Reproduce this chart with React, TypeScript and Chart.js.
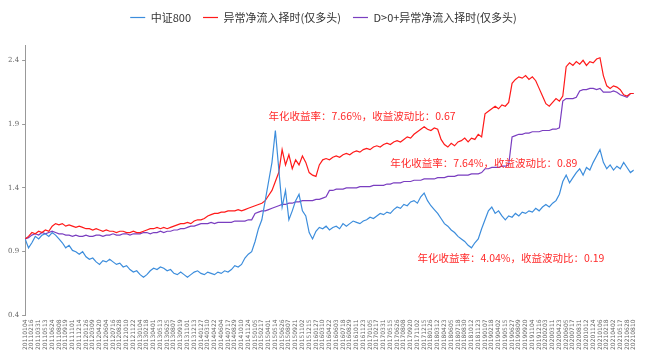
import { useEffect, useRef } from "react";
import { Chart, registerables } from "chart.js";
Chart.register(...registerables);

const xLabels = [
  "20110104","20110216","20110331","20110513","20110624","20110808","20110919","20111101","20111214","20120126",
  "20120309","20120420","20120604","20120716","20120828","20121010","20121122","20130104","20130218","20130401",
  "20130513","20130625","20130807","20130919","20131101","20131213","20140127","20140310","20140422","20140604",
  "20140717","20140829","20141010","20141124","20150105","20150217","20150401","20150514","20150626","20150807",
  "20150921","20151102","20151215","20160127","20160310","20160422","20160603","20160718","20160829","20161011",
  "20161123","20170105","20170217","20170331","20170515","20170626","20170808","20170920","20171102","20171215",
  "20180126","20180312","20180423","20180605","20180718","20180830","20181012","20181123","20190107","20190218",
  "20190402","20190515","20190627","20190809","20190920","20191104","20191216","20200203","20200311","20200423",
  "20200605","20200717","20200831","20201012","20201124","20210106","20210218","20210402","20210517","20210628",
  "20210810"
];

const csi800 = [
  1.0,0.93,0.97,1.02,1.0,1.03,1.04,1.02,1.05,1.03,
  1.0,0.97,0.93,0.95,0.91,0.9,0.88,0.9,0.86,0.84,
  0.85,0.82,0.8,0.83,0.82,0.84,0.82,0.8,0.81,0.78,
  0.79,0.76,0.74,0.75,0.72,0.7,0.72,0.75,0.77,0.76,
  0.78,0.77,0.75,0.76,0.73,0.72,0.74,0.72,0.7,0.72,
  0.74,0.75,0.73,0.72,0.74,0.73,0.72,0.74,0.73,0.75,
  0.74,0.76,0.79,0.78,0.8,0.85,0.88,0.9,0.98,1.08,
  1.15,1.3,1.45,1.6,1.85,1.55,1.25,1.38,1.15,1.22,
  1.3,1.35,1.22,1.18,1.05,1.0,1.06,1.09,1.08,1.1,
  1.07,1.09,1.1,1.08,1.12,1.1,1.12,1.14,1.13,1.12,
  1.14,1.15,1.17,1.16,1.18,1.2,1.19,1.21,1.2,1.23,
  1.25,1.24,1.27,1.26,1.29,1.3,1.28,1.33,1.36,1.3,
  1.26,1.23,1.2,1.16,1.12,1.1,1.07,1.05,1.02,1.0,
  0.98,0.95,0.93,0.97,1.0,1.08,1.15,1.22,1.25,1.2,
  1.22,1.18,1.15,1.18,1.17,1.2,1.18,1.21,1.2,1.22,
  1.21,1.24,1.22,1.25,1.27,1.25,1.28,1.3,1.35,1.45,
  1.5,1.44,1.48,1.52,1.55,1.5,1.56,1.54,1.6,1.65,
  1.7,1.6,1.55,1.58,1.54,1.57,1.55,1.6,1.56,1.52,
  1.54
];

const flowTiming = [
  1.0,1.02,1.05,1.04,1.06,1.05,1.07,1.06,1.1,1.12,
  1.11,1.12,1.1,1.11,1.1,1.09,1.1,1.09,1.08,1.08,
  1.07,1.08,1.07,1.06,1.07,1.06,1.06,1.05,1.06,1.06,
  1.05,1.05,1.06,1.05,1.05,1.06,1.07,1.08,1.08,1.09,
  1.08,1.09,1.08,1.09,1.1,1.11,1.12,1.12,1.13,1.12,
  1.14,1.15,1.15,1.16,1.18,1.19,1.2,1.2,1.21,1.21,
  1.22,1.22,1.22,1.23,1.22,1.23,1.24,1.25,1.26,1.27,
  1.28,1.3,1.34,1.38,1.45,1.52,1.7,1.58,1.66,1.55,
  1.62,1.58,1.65,1.6,1.52,1.5,1.49,1.58,1.62,1.63,
  1.62,1.64,1.65,1.64,1.66,1.67,1.66,1.68,1.69,1.68,
  1.7,1.71,1.7,1.72,1.73,1.72,1.74,1.75,1.74,1.76,
  1.77,1.76,1.78,1.8,1.79,1.82,1.84,1.86,1.88,1.86,
  1.85,1.87,1.86,1.78,1.74,1.72,1.75,1.73,1.76,1.77,
  1.79,1.76,1.79,1.78,1.82,1.8,1.98,2.0,2.02,2.04,
  2.02,2.05,2.04,2.07,2.22,2.25,2.27,2.26,2.28,2.25,
  2.27,2.24,2.18,2.12,2.06,2.04,2.07,2.1,2.08,2.12,
  2.35,2.38,2.36,2.39,2.37,2.4,2.36,2.39,2.38,2.41,
  2.42,2.28,2.2,2.18,2.2,2.19,2.17,2.13,2.12,2.14,
  2.14
];

const dFlowTiming = [
  1.0,1.01,1.03,1.04,1.03,1.05,1.04,1.05,1.06,1.05,
  1.04,1.04,1.03,1.03,1.02,1.03,1.02,1.02,1.03,1.02,
  1.02,1.03,1.03,1.02,1.03,1.03,1.04,1.03,1.03,1.04,
  1.04,1.03,1.04,1.04,1.04,1.05,1.05,1.04,1.05,1.05,
  1.06,1.05,1.06,1.06,1.07,1.07,1.08,1.08,1.09,1.1,
  1.1,1.11,1.12,1.12,1.12,1.13,1.12,1.13,1.13,1.13,
  1.13,1.13,1.14,1.14,1.14,1.14,1.15,1.15,1.2,1.21,
  1.22,1.22,1.23,1.24,1.25,1.26,1.27,1.27,1.28,1.28,
  1.29,1.29,1.3,1.3,1.3,1.3,1.31,1.31,1.32,1.33,
  1.38,1.38,1.39,1.39,1.39,1.4,1.4,1.4,1.4,1.41,
  1.41,1.41,1.41,1.42,1.42,1.42,1.42,1.43,1.43,1.44,
  1.44,1.44,1.45,1.45,1.45,1.46,1.46,1.46,1.47,1.47,
  1.47,1.47,1.48,1.48,1.48,1.49,1.49,1.49,1.5,1.5,
  1.5,1.5,1.51,1.51,1.51,1.52,1.55,1.55,1.56,1.56,
  1.56,1.57,1.57,1.58,1.8,1.81,1.82,1.82,1.83,1.83,
  1.84,1.84,1.84,1.85,1.85,1.85,1.86,1.86,1.87,2.08,
  2.1,2.1,2.1,2.11,2.16,2.17,2.17,2.18,2.18,2.17,
  2.18,2.15,2.15,2.15,2.16,2.15,2.13,2.12,2.11,2.14,
  2.14
];

const seriesNames = ["中证800", "异常净流入择时(仅多头)", "D>0+异常净流入择时(仅多头)"];
const seriesColors = ["#3C8DDC", "#FF1A1A", "#7A3EC0"];
const yTicks = [0.4, 0.9, 1.4, 1.9, 2.4];
const yMin = 0.4;
const yMax = 2.52;

const annotTexts = [
  "年化收益率：7.66%，收益波动比：0.67",
  "年化收益率：7.64%，收益波动比：0.89",
  "年化收益率：4.04%，收益波动比：0.19",
];
const annotX = [72, 108, 116];
const annotY = [1.96, 1.595, 0.85];

const FONT = "'Noto Sans CJK SC', 'Noto Sans', sans-serif";

export default function App() {
  const ref = useRef<HTMLCanvasElement | null>(null);

  useEffect(() => {
    if (!ref.current) return;
    const n = csi800.length;
    const step = (n - 1) / (xLabels.length - 1);
    const toPts = (arr: number[]) => arr.map((v, i) => ({ x: i, y: v }));

    const legendGap = {
      id: "legendGap",
      beforeInit(chart: any) {
        const legend = chart.legend;
        if (!legend) return;
        const fit = legend.fit;
        legend.fit = function () {
          fit.call(this);
          this.height += 12;
        };
      },
    };

    const annotations = {
      id: "annotations",
      afterDatasetsDraw(chart: any) {
        const { ctx, scales } = chart;
        ctx.save();
        ctx.fillStyle = "#FF2A2A";
        ctx.font = `10.5px ${FONT}`;
        ctx.textAlign = "left";
        ctx.textBaseline = "middle";
        annotTexts.forEach((t, k) => {
          ctx.fillText(t, scales.x.getPixelForValue(annotX[k]), scales.y.getPixelForValue(annotY[k]));
        });
        ctx.restore();
      },
    };

    const chart = new Chart(ref.current, {
      type: "line",
      data: {
        datasets: [csi800, flowTiming, dFlowTiming].map((arr, k) => ({
          label: seriesNames[k],
          data: toPts(arr),
          borderColor: seriesColors[k],
          backgroundColor: seriesColors[k],
          borderWidth: 1.2,
          pointRadius: 0,
          tension: 0,
          fill: false,
        })),
      },
      options: {
        animation: false,
        responsive: true,
        maintainAspectRatio: false,
        layout: { padding: { left: 5, right: 3, top: 0, bottom: 6 } },
        plugins: {
          legend: {
            position: "top",
            labels: {
              usePointStyle: true,
              pointStyle: "line",
              pointStyleWidth: 15,
              boxHeight: 11,
              padding: 12,
              color: "#333333",
              font: { family: FONT, size: 11 },
            },
          },
          tooltip: { enabled: false },
        },
        scales: {
          x: {
            type: "linear",
            min: 0,
            max: n - 1,
            afterBuildTicks: (scale: any) => {
              scale.ticks = xLabels.map((_, i) => ({ value: i * step }));
            },
            ticks: {
              autoSkip: false,
              maxRotation: 90,
              minRotation: 90,
              padding: 4,
              color: "#666666",
              font: { family: "DejaVu Sans", size: 6 },
              callback: (_v: any, idx: number) => xLabels[idx],
            },
            grid: { display: false, drawTicks: false },
            border: { display: false },
          },
          y: {
            min: yMin,
            max: yMax,
            afterBuildTicks: (scale: any) => {
              scale.ticks = yTicks.map((v) => ({ value: v }));
            },
            ticks: {
              padding: 3,
              color: "#666666",
              font: { family: "DejaVu Serif", size: 7 },
              callback: (v: any) => Number(v).toFixed(1),
            },
            grid: { drawOnChartArea: false, drawTicks: true, tickLength: 3, color: "#999999" },
            border: { display: true, color: "#999999", width: 1 },
          },
        },
      },
      plugins: [legendGap, annotations],
    } as any);

    return () => chart.destroy();
  }, []);

  return (
    <div style={{ position: "fixed", left: 0, top: 0, width: 645, height: 360, background: "#fff" }}>
      <canvas ref={ref} />
    </div>
  );
}
